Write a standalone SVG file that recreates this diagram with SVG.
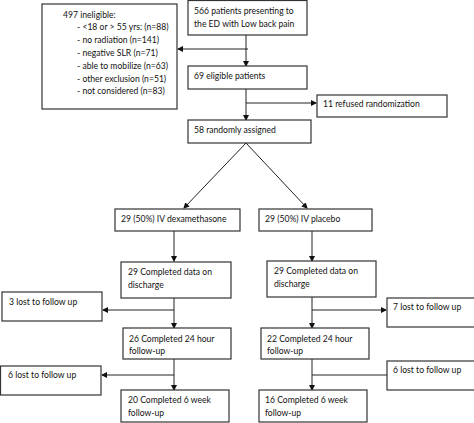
<svg xmlns="http://www.w3.org/2000/svg" width="474" height="423" viewBox="0 0 474 423">
<defs>
<marker id="ah" markerWidth="6" markerHeight="6" refX="5" refY="3" orient="auto" markerUnits="userSpaceOnUse">
<path d="M0,0 L6,3 L0,6 Z" fill="#111"/>
</marker>
<style>
rect{fill:#fff;stroke:#333;stroke-width:1.2}
text{font-family:Lato,"Liberation Sans",Arial,sans-serif;font-size:8.6px;fill:#111}
.c line{stroke:#222;stroke-width:1}
.a{marker-end:url(#ah)}
</style>
</defs>
<rect x="0" y="0" width="474" height="423" style="fill:#fff;stroke:none"/>
<g class="c">
<line x1="246" y1="35" x2="246" y2="66" class="a"/>
<line x1="248" y1="49" x2="178" y2="49" class="a"/>
<line x1="246" y1="89" x2="246" y2="120" class="a"/>
<line x1="246" y1="103" x2="316" y2="103" class="a"/>
<line x1="246" y1="143" x2="184" y2="208" class="a"/>
<line x1="246" y1="143" x2="307" y2="208" class="a"/>
<line x1="174" y1="231" x2="174" y2="261" class="a"/>
<line x1="174" y1="298" x2="174" y2="328" class="a"/>
<line x1="174" y1="310" x2="103" y2="310" class="a"/>
<line x1="174" y1="359" x2="174" y2="390" class="a"/>
<line x1="174" y1="375" x2="102" y2="375" class="a"/>
<line x1="312" y1="231" x2="312" y2="261" class="a"/>
<line x1="312" y1="297" x2="312" y2="328" class="a"/>
<line x1="312" y1="310" x2="386" y2="310" class="a"/>
<line x1="312" y1="359" x2="312" y2="390" class="a"/>
<line x1="312" y1="375" x2="387" y2="375"/>
</g>
<g id="ineligible">
<rect x="42" y="4" width="135" height="105"/>
<text x="63" y="18">497 ineligible:</text>
<text x="77" y="30">- &lt;18 or &gt; 55 yrs: (n=88)</text>
<text x="77" y="43">- no radiation (n=141)</text>
<text x="77" y="56">- negative SLR (n=71)</text>
<text x="77" y="69">- able to mobilize (n=63)</text>
<text x="77" y="82">- other exclusion (n=51)</text>
<text x="77" y="94">- not considered (n=83)</text>
</g>
<g id="presenting">
<rect x="188" y="0.5" width="119" height="34.5"/>
<text x="194" y="14">566 patients presenting to</text>
<text x="194" y="27">the ED with Low back pain</text>
</g>
<g id="eligible">
<rect x="188" y="66" width="119" height="23"/>
<text x="194" y="79">69 eligible patients</text>
</g>
<g id="refused">
<rect x="317" y="95" width="130" height="22"/>
<text x="323" y="107">11 refused randomization</text>
</g>
<g id="randomized">
<rect x="188" y="120" width="123" height="23"/>
<text x="194" y="133">58 randomly assigned</text>
</g>
<g id="dex">
<rect x="115" y="209" width="125" height="22"/>
<text x="121" y="222">29 (50%) IV dexamethasone</text>
</g>
<g id="placebo">
<rect x="259" y="209" width="113" height="22"/>
<text x="265" y="222">29 (50%) IV placebo</text>
</g>
<g id="dex-discharge">
<rect x="121" y="262" width="110" height="36"/>
<text x="128" y="275">29  Completed data on</text>
<text x="128" y="288">discharge</text>
</g>
<g id="dex-lost3">
<rect x="2" y="292" width="100" height="29"/>
<text x="9" y="305">3 lost to follow up</text>
</g>
<g id="dex-24h">
<rect x="123" y="328" width="108" height="31"/>
<text x="129" y="342">26 Completed 24 hour</text>
<text x="129" y="354">follow-up</text>
</g>
<g id="dex-lost6">
<rect x="0.5" y="366" width="100.5" height="29"/>
<text x="8" y="378">6 lost to follow up</text>
</g>
<g id="dex-6w">
<rect x="121" y="390" width="108" height="32"/>
<text x="128" y="403">20 Completed 6 week</text>
<text x="128" y="416">follow-up</text>
</g>
<g id="pla-discharge">
<rect x="267" y="261" width="109" height="36"/>
<text x="274" y="274">29  Completed data on</text>
<text x="274" y="287">discharge</text>
</g>
<g id="pla-lost7">
<rect x="387" y="298" width="90" height="29"/>
<text x="393" y="310">7 lost to follow up</text>
</g>
<g id="pla-24h">
<rect x="261" y="328" width="108" height="31"/>
<text x="267" y="342">22 Completed 24 hour</text>
<text x="267" y="354">follow-up</text>
</g>
<g id="pla-lost6">
<rect x="387" y="361" width="90" height="29"/>
<text x="393" y="373">6 lost to follow up</text>
</g>
<g id="pla-6w">
<rect x="259" y="390" width="108" height="32"/>
<text x="265" y="403">16 Completed 6 week</text>
<text x="265" y="416">follow-up</text>
</g>
</svg>
